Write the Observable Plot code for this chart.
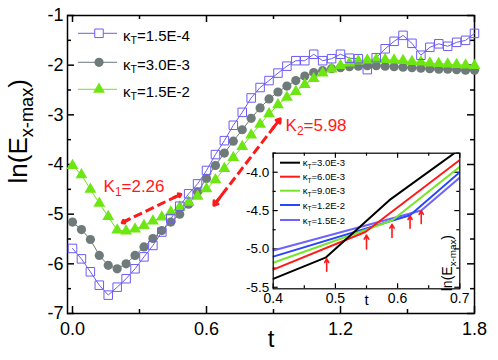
<!DOCTYPE html>
<html><head><meta charset="utf-8">
<script src="https://cdn.jsdelivr.net/npm/d3@7"></script>
<script src="https://cdn.jsdelivr.net/npm/@observablehq/plot@0.6"></script>
<style>
body{margin:0;background:#fff;}
#wrap{position:relative;width:498px;height:360px;overflow:hidden;}
#wrap svg{position:absolute;}
</style></head><body><div id="wrap"></div>
<script>
// ---------- main chart data ----------
const tValues = [0.00,0.04,0.08,0.12,0.16,0.20,0.24,0.28,0.32,0.36,0.40,0.44,0.48,0.52,0.56,0.60,0.64,0.68,0.72,0.76,0.80,0.84,0.88,0.92,0.96,1.00,1.04,1.08,1.12,1.16,1.20,1.24,1.28,1.32,1.36,1.40,1.44,1.48,1.52,1.56,1.60,1.64,1.68,1.72,1.76,1.80];
const squareValues = [-5.69,-5.90,-6.16,-6.43,-6.63,-6.47,-6.30,-6.10,-5.86,-5.63,-5.36,-5.09,-4.84,-4.59,-4.39,-4.12,-3.80,-3.52,-3.21,-2.95,-2.66,-2.45,-2.31,-2.16,-2.02,-1.91,-1.91,-1.78,-1.91,-1.87,-1.78,-1.86,-1.87,-2.09,-1.85,-1.67,-1.52,-1.40,-1.56,-1.80,-1.64,-1.57,-1.62,-1.54,-1.50,-1.36];
const circleValues = [-5.16,-5.31,-5.51,-5.83,-6.03,-6.10,-6.00,-5.83,-5.66,-5.49,-5.33,-5.16,-5.00,-4.80,-4.55,-4.28,-4.02,-3.77,-3.53,-3.30,-3.07,-2.86,-2.68,-2.54,-2.42,-2.31,-2.22,-2.15,-2.11,-2.07,-2.05,-2.03,-2.02,-2.01,-2.01,-2.02,-2.03,-2.04,-2.05,-2.06,-2.07,-2.08,-2.08,-2.09,-2.10,-2.10];
const triangleValues = [-4.02,-4.21,-4.50,-4.78,-5.05,-5.32,-5.34,-5.30,-5.23,-5.14,-5.06,-4.96,-4.86,-4.76,-4.64,-4.49,-4.31,-4.08,-3.86,-3.64,-3.41,-3.19,-2.98,-2.80,-2.65,-2.53,-2.39,-2.27,-2.16,-2.08,-2.01,-1.96,-1.92,-1.90,-1.89,-1.89,-1.90,-1.91,-1.93,-1.94,-1.96,-1.97,-1.98,-1.99,-2.00,-2.01];
const seriesNames = ["κ_{T}=1.5E-4","κ_{T}=3.0E-3","κ_{T}=1.5E-2"];
const seriesColors = ["#6c5cf4","#6f7a7a","#6ee613"];
const xMajor = [0, 0.6, 1.2, 1.8];
const xMinor = [0.3, 0.9, 1.5];
const yMajor = [-7, -6, -5, -4, -3, -2, -1];
const yMinor = [-6.5, -5.5, -4.5, -3.5, -2.5, -1.5];
// slope annotations
const kLabelT = [0.139, 0.954];
const kLabelV = [-4.56, -3.33];
const kLabelText = ["K_{1}=2.26", "K_{2}=5.98"];
const kArrowT1 = [0.2225, 0.633];
const kArrowV1 = [-5.17, -4.82];
const kArrowT2 = [0.485, 0.93];
const kArrowV2 = [-4.60, -3.08];

// ---------- inset data ----------
const insetNames = ["κ_{T}=3.0E-3","κ_{T}=6.0E-3","κ_{T}=9.0E-3","κ_{T}=1.2E-2","κ_{T}=1.5E-2"];
const insetColors = ["#000000","#ff1a1a","#77e62a","#2845ff","#6f63ff"];
const insetT = [[0.4,0.485,0.548,0.589,0.7],[0.4,0.548,0.7],[0.4,0.591,0.7],[0.4,0.62,0.7],[0.4,0.638,0.7]];
const insetV = [[-5.39,-5.11,-4.65,-4.35,-3.70],[-5.27,-4.78,-3.84],[-5.18,-4.63,-3.93],[-5.10,-4.56,-4.00],[-5.02,-4.50,-4.07]];
const kinkT = [0.486, 0.55, 0.591, 0.62, 0.638];
const arrowTipV = [-5.13, -4.82, -4.68, -4.57, -4.50];
const arrowTailV = [-5.29, -5.00, -4.85, -4.73, -4.67];
const ixMajor = [0.4, 0.5, 0.6, 0.7];
const ixMinor = [0.45, 0.55, 0.65];
const iyMajor = [-5.5, -5.0, -4.5, -4.0];
const iyMinor = [-5.25, -4.75, -4.25, -3.75];

const FONT = "'Liberation Sans', Arial, Helvetica, sans-serif";
const RED = "#ff1a1a";
const NS = "http://www.w3.org/2000/svg";

function subify(svg) {
  svg.querySelectorAll("text").forEach(el => {
    const str = el.textContent;
    if (!str.includes("_{")) return;
    const parts = str.split(/(_\{[^}]*\})/).filter(p => p);
    el.textContent = "";
    let shifted = false;
    for (const p of parts) {
      const ts = document.createElementNS(NS, "tspan");
      if (p.startsWith("_{")) {
        ts.textContent = p.slice(2, -1);
        ts.setAttribute("font-size", "70%");
        ts.setAttribute("dy", "0.35em");
        shifted = true;
      } else {
        ts.textContent = p;
        if (shifted) { ts.setAttribute("dy", "-0.245em"); shifted = false; }
      }
      el.appendChild(ts);
    }
  });
}

// ---------- main plot ----------
const ML = 67, MR = 24, MT = 15, MB = 47, W = 498, H = 360;
const FW = W - ML - MR, FH = H - MT - MB;
const sq = tValues.map((t, i) => ({t, v: squareValues[i]}));
const ci = tValues.map((t, i) => ({t, v: circleValues[i]}));
const tr = tValues.map((t, i) => ({t, v: triangleValues[i]}));
const kLabels = kLabelT.map((t, i) => ({t, v: kLabelV[i], label: kLabelText[i]}));
const kArrows = kArrowT1.map((t, i) => ({t1: t, v1: kArrowV1[i], t2: kArrowT2[i], v2: kArrowV2[i]}));
// short solid head segments at both ends of each double arrow (along the arrow direction)
const kHeads = kArrows.flatMap(a => [
  {x1: a.t1 + (a.t2 - a.t1) * 0.12, y1: a.v1 + (a.v2 - a.v1) * 0.12, x2: a.t1, y2: a.v1},
  {x1: a.t2 + (a.t1 - a.t2) * 0.12, y1: a.v2 + (a.v1 - a.v2) * 0.12, x2: a.t2, y2: a.v2}
]);

const main = Plot.plot({
  width: W, height: H,
  marginLeft: ML, marginRight: MR, marginTop: MT, marginBottom: MB,
  x: {domain: [-0.0224, 1.8]},
  y: {domain: [-7, -1]},
  style: {fontFamily: FONT, background: "white", overflow: "visible", color: "black"},
  marks: [
    Plot.ruleX(xMajor, {x: d => d, insetTop: FH - 7, strokeWidth: 1.5}),
    Plot.ruleX(xMajor, {x: d => d, insetBottom: FH - 7, strokeWidth: 1.5}),
    Plot.ruleX(xMinor, {x: d => d, insetTop: FH - 4, strokeWidth: 1.5}),
    Plot.ruleX(xMinor, {x: d => d, insetBottom: FH - 4, strokeWidth: 1.5}),
    Plot.ruleY(yMajor, {y: d => d, insetRight: FW - 7, strokeWidth: 1.5}),
    Plot.ruleY(yMajor, {y: d => d, insetLeft: FW - 7, strokeWidth: 1.5}),
    Plot.ruleY(yMinor, {y: d => d, insetRight: FW - 4, strokeWidth: 1.5}),
    Plot.ruleY(yMinor, {y: d => d, insetLeft: FW - 4, strokeWidth: 1.5}),
    Plot.frame({stroke: "black", strokeWidth: 1.5}),
    Plot.axisX(xMajor, {tickSize: 0, tickPadding: 9, fontSize: 18, tickFormat: d => d.toFixed(1), label: null}),
    Plot.axisY(yMajor, {tickSize: 0, tickPadding: 4, fontSize: 18, tickFormat: d => String(d), label: null}),
    Plot.line(ci, {x: "t", y: "v", stroke: seriesColors[1], strokeWidth: 1}),
    Plot.line(tr, {x: "t", y: "v", stroke: seriesColors[2], strokeWidth: 1}),
    Plot.line(sq, {x: "t", y: "v", stroke: seriesColors[0], strokeWidth: 1}),
    Plot.dot(ci, {x: "t", y: "v", symbol: "circle", r: 4.6, fill: seriesColors[1]}),
    Plot.dot(tr, {x: "t", y: "v", symbol: "triangle", r: 4.4, fill: seriesColors[2]}),
    Plot.dot(sq, {x: "t", y: "v", symbol: "square", r: 4.8, stroke: seriesColors[0], fill: "none", strokeWidth: 1}),
    Plot.link(kArrows, {x1: "t1", y1: "v1", x2: "t2", y2: "v2", stroke: RED, strokeWidth: 3, strokeDasharray: "9,4"}),
    Plot.arrow(kHeads, {x1: "x1", y1: "y1", x2: "x2", y2: "y2", stroke: RED, strokeWidth: 3, headLength: 11, headAngle: 70}),
    Plot.text(kLabels, {x: "t", y: "v", text: "label", fill: RED, fontSize: 17, textAnchor: "start", lineAnchor: "bottom"}),
    Plot.text(["t"], {text: d => d, frameAnchor: "bottom", dy: 33, fontSize: 24}),
    Plot.text(["ln(E_{x-max})"], {text: d => d, frameAnchor: "left", dx: -49, dy: 19, rotate: -90, fontSize: 26})
  ]
});
subify(main);

// main legend
{
  const g = d3.select(main).append("g").attr("font-family", FONT).attr("text-anchor", "start");
  const rows = [33.3, 62.3, 89.3];
  const syms = [d3.symbolSquare, d3.symbolCircle, d3.symbolTriangle];
  const rs = [4.8, 4.6, 4.4];
  seriesNames.forEach((name, i) => {
    const y = rows[i];
    g.append("line").attr("x1", 78).attr("x2", 117).attr("y1", y).attr("y2", y)
      .attr("stroke", seriesColors[i]).attr("stroke-width", 1);
    const p = g.append("path").attr("transform", `translate(99,${y})`)
      .attr("d", d3.symbol(syms[i], rs[i] * rs[i] * Math.PI)());
    if (i === 0) p.attr("fill", "white").attr("stroke", seriesColors[i]).attr("stroke-width", 1);
    else p.attr("fill", seriesColors[i]);
    g.append("text").attr("x", 123).attr("y", y + 7.5).attr("font-size", 15).attr("text-anchor", "start").text(name);
  });
  subify(main);
}

// ---------- inset ----------
const IL = 236, IT = 150, IW = 226, IH = 162;
const iML = 36.7, iMR = 2.7, iMT = 2.7, iMB = 23.7;
const iFW = IW - iML - iMR, iFH = IH - iMT - iMB;
const insetArrows = kinkT.map((t, i) => ({t, tip: arrowTipV[i], tail: arrowTailV[i]}));
const insetLineMarks = insetNames.map((n, k) =>
  Plot.line(insetT[k].map((t, i) => ({t, v: insetV[k][i]})), {x: "t", y: "v", stroke: insetColors[k], strokeWidth: 2, clip: true})
).reverse();

const inset = Plot.plot({
  width: IW, height: IH,
  marginLeft: iML, marginRight: iMR, marginTop: iMT, marginBottom: iMB,
  x: {domain: [0.4, 0.7]},
  y: {domain: [-5.52, -3.752]},
  style: {fontFamily: FONT, background: "transparent", overflow: "visible", color: "black"},
  marks: [
    Plot.frame({fill: "white", stroke: "none"}),
    Plot.ruleX(ixMajor, {x: d => d, insetTop: iFH - 5, strokeWidth: 1.2}),
    Plot.ruleX(ixMajor, {x: d => d, insetBottom: iFH - 5, strokeWidth: 1.2}),
    Plot.ruleX(ixMinor, {x: d => d, insetTop: iFH - 3, strokeWidth: 1.2}),
    Plot.ruleX(ixMinor, {x: d => d, insetBottom: iFH - 3, strokeWidth: 1.2}),
    Plot.ruleY(iyMajor, {y: d => d, insetRight: iFW - 5, strokeWidth: 1.2}),
    Plot.ruleY(iyMajor, {y: d => d, insetLeft: iFW - 5, strokeWidth: 1.2}),
    Plot.ruleY(iyMinor, {y: d => d, insetRight: iFW - 3, strokeWidth: 1.2}),
    Plot.ruleY(iyMinor, {y: d => d, insetLeft: iFW - 3, strokeWidth: 1.2}),
    ...insetLineMarks,
    Plot.arrow(insetArrows, {x1: "t", y1: "tail", x2: "t", y2: "tip", stroke: RED, strokeWidth: 1.6, headLength: 6}),
    Plot.frame({stroke: "black", strokeWidth: 1.2}),
    Plot.axisX(ixMajor, {tickSize: 0, tickPadding: 4, fontSize: 14, tickFormat: d => d.toFixed(1), label: null}),
    Plot.axisY(iyMajor, {tickSize: 0, tickPadding: 4, fontSize: 13.5, tickFormat: d => d.toFixed(1), label: null}),
    Plot.text(["t"], {text: d => d, frameAnchor: "bottom", dy: 16, fontSize: 15}),
    Plot.text(["ln(E_{x-max})"], {text: d => d, frameAnchor: "right", dx: -12, dy: 14, rotate: -90, fontSize: 14})
  ]
});
{
  const g = d3.select(inset).append("g").attr("font-family", FONT).attr("text-anchor", "start");
  const rows = [12.7, 26.7, 40.7, 55, 70];
  insetNames.forEach((name, i) => {
    const y = rows[i];
    g.append("line").attr("x1", 44).attr("x2", 64).attr("y1", y).attr("y2", y)
      .attr("stroke", insetColors[i]).attr("stroke-width", 2);
    g.append("text").attr("x", 66.7).attr("y", y + 3.5).attr("font-size", 9.5).attr("text-anchor", "start").text(name);
  });
}
subify(inset);

const wrap = document.getElementById("wrap");
main.style.left = "0px"; main.style.top = "0px";
inset.style.left = IL + "px"; inset.style.top = IT + "px";
wrap.appendChild(main);
wrap.appendChild(inset);
</script></body></html>
